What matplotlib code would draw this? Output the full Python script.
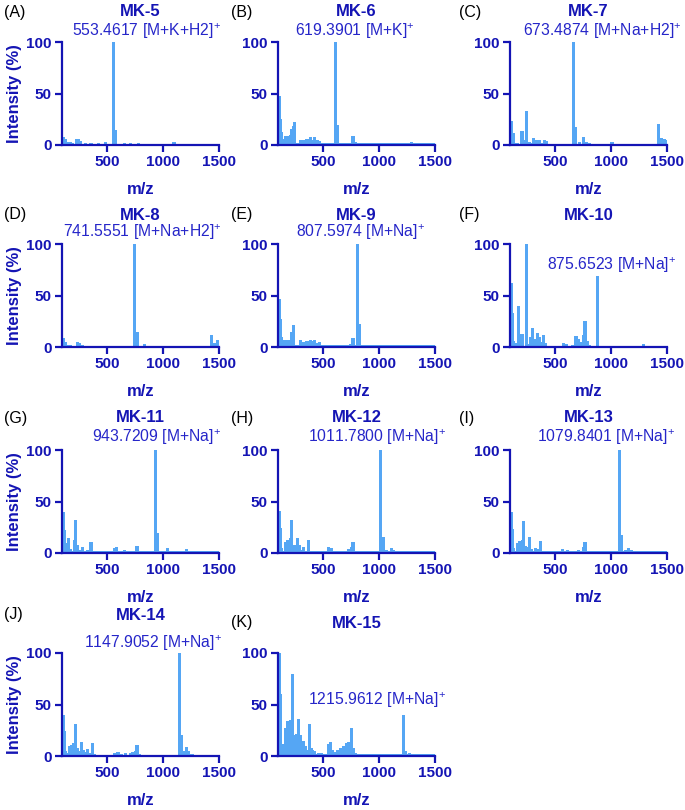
import matplotlib
matplotlib.use("Agg")
import matplotlib.pyplot as plt

plt.rcParams["font.family"] = ["Liberation Sans", "DejaVu Sans"]
plt.rcParams["mathtext.fontset"] = "custom"
plt.rcParams["mathtext.rm"] = "Liberation Sans"

# ---- data (bin start m/z, relative intensity %) ----
mk5_mz = [100, 113, 130, 145, 160, 175, 220, 235, 250, 295, 345, 415, 475, 543, 560, 645, 695, 765, 1085]
mk5_int = [8, 6, 3, 2.5, 3, 2, 6, 6, 4, 1.5, 1.5, 2, 2.5, 100, 15, 1.5, 1.5, 2, 2.5]

mk6_mz = [100, 110, 120, 135, 150, 165, 180, 195, 207, 221, 235, 255, 285, 305, 325, 345, 360, 375,
          395, 415, 435, 455, 485, 515, 595, 615, 695, 755, 775, 1275]
mk6_int = [48, 25, 13, 6, 9, 9, 9, 10, 16, 18, 22, 2, 5, 5, 5, 6, 6, 8, 5, 8, 5, 4, 2, 2, 100, 19, 2, 9, 3, 3]

mk7_mz = [100, 115, 130, 155, 185, 200, 217, 235, 255, 275, 295, 315, 345, 365, 395, 415, 650, 672,
          705, 740, 765, 795, 995, 1412, 1435, 1460, 1480]
mk7_int = [23, 12, 2, 2, 14, 14, 5, 33, 3, 2, 7, 5, 5, 2, 5, 4, 100, 17, 3, 8, 3, 2, 3, 20, 7, 6, 5]

mk8_mz = [100, 115, 135, 165, 225, 245, 265, 735, 757, 825, 1422, 1445, 1475]
mk8_int = [9, 5, 2, 2, 5, 4, 2, 100, 15, 3, 12, 4, 6.5]

mk9_mz = [100, 110, 120, 140, 160, 180, 205, 225, 245, 285, 305, 325, 345, 375, 395, 415, 435, 455,
          485, 515, 735, 755, 792, 812, 835]
mk9_int = [47, 27, 10, 7, 7, 7, 15, 21, 2, 7, 5, 5, 6, 7, 6, 7, 4, 5, 2, 2, 3, 9, 100, 22, 2]

mk10_mz = [100, 110, 120, 135, 160, 175, 195, 230, 250, 270, 285, 300, 315, 335, 350, 365, 385, 405,
           565, 585, 645, 675, 695, 715, 740, 755, 775, 795, 863, 1275]
mk10_int = [62, 33, 6, 4, 40, 13, 13, 100, 3, 10, 18, 8, 5, 14, 10, 5, 12, 4, 4, 3, 2, 11, 8, 5, 12, 25,
            6, 2, 69, 3]

mk11_mz = [100, 110, 120, 135, 145, 160, 195, 210, 225, 245, 265, 285, 315, 345, 365, 555, 575, 615,
           645, 695, 755, 775, 918, 937, 1025, 1195]
mk11_int = [40, 22, 6, 10, 15, 4, 13, 32, 8, 3, 6, 2, 3, 11, 2, 5, 6, 2, 3, 2, 7, 2, 100, 19, 5, 4]

mk12_mz = [100, 110, 120, 135, 155, 175, 195, 210, 225, 245, 260, 275, 295, 315, 335, 355, 375, 535,
           565, 595, 645, 695, 715, 740, 755, 775, 1003, 1022, 1055, 1095, 1115]
mk12_int = [41, 24, 5, 2, 11, 13, 15, 32, 8, 8, 15, 8, 3, 6, 2, 13, 2, 6, 5, 2, 2, 2, 4, 6, 11, 2, 100,
            16, 3, 5, 3]

mk13_mz = [100, 110, 120, 135, 155, 170, 195, 210, 225, 245, 260, 275, 295, 315, 335, 355, 375, 555,
           595, 695, 740, 755, 775, 1060, 1082, 1115, 1145, 1165]
mk13_int = [40, 23, 5, 2, 10, 12, 13, 31, 7, 6, 16, 4, 2, 5, 4, 12, 2, 4, 3, 3, 6, 11, 2, 100, 17, 3, 5, 3]

mk14_mz = [100, 110, 120, 135, 155, 170, 185, 210, 225, 245, 260, 275, 295, 315, 335, 355, 375, 555,
           585, 615, 655, 695, 715, 740, 755, 775, 1132, 1152, 1175, 1195, 1215, 1245]
mk14_int = [40, 24, 5, 3, 10, 11, 13, 31, 8, 5, 14, 6, 4, 7, 3, 13, 2, 3, 4, 2, 3, 3, 4, 5, 11, 2, 100,
            20, 5, 9, 5, 2]

mk15_mz = [100, 112, 122, 135, 155, 175, 195, 213, 235, 255, 270, 285, 300, 315, 330, 345, 365, 380,
           395, 415, 445, 475, 535, 555, 575, 595, 615, 645, 675, 695, 715, 738, 755, 775, 1202, 1225, 1255]
mk15_int = [100, 60, 12, 8, 27, 34, 35, 80, 20, 21, 36, 20, 8, 15, 10, 6, 31, 8, 6, 5, 3, 3, 12, 14, 6,
            4, 6, 8, 10, 13, 14, 27, 8, 3, 40, 5, 3]

baselines = [1.0, 1.5, 1.0, 0.8, 1.5, 1.2, 1.5, 1.5, 1.5, 1.0, 2.2]
panel_tags = ["(A)", "(B)", "(C)", "(D)", "(E)", "(F)", "(G)", "(H)", "(I)", "(J)", "(K)"]
titles = ["MK-5", "MK-6", "MK-7", "MK-8", "MK-9", "MK-10", "MK-11", "MK-12", "MK-13", "MK-14", "MK-15"]
annotations = [
    "553.4617 [M+K+H2]$^{+}$", "619.3901 [M+K]$^{+}$", "673.4874 [M+Na+H2]$^{+}$",
    "741.5551 [M+Na+H2]$^{+}$", "807.5974 [M+Na]$^{+}$", "875.6523 [M+Na]$^{+}$",
    "943.7209 [M+Na]$^{+}$", "1011.7800 [M+Na]$^{+}$", "1079.8401 [M+Na]$^{+}$",
    "1147.9052 [M+Na]$^{+}$", "1215.9612 [M+Na]$^{+}$",
]
spectra = [
    (mk5_mz, mk5_int), (mk6_mz, mk6_int), (mk7_mz, mk7_int), (mk8_mz, mk8_int),
    (mk9_mz, mk9_int), (mk10_mz, mk10_int), (mk11_mz, mk11_int), (mk12_mz, mk12_int),
    (mk13_mz, mk13_int), (mk14_mz, mk14_int), (mk15_mz, mk15_int),
]

# ---- layout (pixels in a 685x810 canvas) ----
W, H = 685, 810
col_left = [62, 278, 510]
row_top = [42, 244, 450, 653]
ax_w, ax_h = 157, 103
# annotation centre (x, y) per panel, title y per panel
annot_pos = [(147, 31), (355, 31), (602, 31), (142, 232), (361, 232), (612, 265),
             (157, 437), (377, 437), (606, 437), (153, 643), (377, 700)]
title_y = [12, 12, 12, 215, 215, 215, 418, 418, 418, 615, 623]

AXIS = "#1414B4"
TEXT = "#2626C9"
BAR = "#55A6F4"


def fx(px):
    return px / W


def fy(py):
    return 1 - py / H


fig = plt.figure(figsize=(W / 100, H / 100), dpi=100)

for i, (mz, inten) in enumerate(spectra):
    r, c = divmod(i, 3)
    left, top = col_left[c], row_top[r]
    ax = fig.add_axes([fx(left), fy(top + ax_h), ax_w / W, ax_h / H])

    ax.bar(100, baselines[i], width=1400, align="edge", color=BAR, linewidth=0)
    ax.bar(mz, inten, width=28, align="edge", color=BAR, linewidth=0)

    ax.set_xlim(100, 1500)
    ax.set_ylim(0, 100)
    ax.set_xticks([500, 1000, 1500])
    ax.set_yticks([0, 50, 100])
    for s in ["top", "right"]:
        ax.spines[s].set_visible(False)
    for s in ["left", "bottom"]:
        ax.spines[s].set_color(AXIS)
        ax.spines[s].set_linewidth(1.6)
    ax.tick_params(colors=AXIS, width=1.6, length=5, pad=2.5, labelsize=11)
    for lab in ax.get_xticklabels() + ax.get_yticklabels():
        lab.set_fontweight("bold")
        lab.set_color(AXIS)
    ax.set_xlabel("m/z", fontsize=12, fontweight="bold", color=AXIS, labelpad=9)
    if c == 0:
        ax.set_ylabel("Intensity (%)", fontsize=12, fontweight="bold", color=AXIS, labelpad=3)

    cx = left + ax_w / 2
    fig.text(fx(cx), fy(title_y[i]), titles[i], ha="center", va="center",
             fontsize=12, fontweight="bold", color=AXIS)
    ax_px, ay_px = annot_pos[i]
    fig.text(fx(ax_px), fy(ay_px), annotations[i], ha="center", va="center",
             fontsize=11.3, color=TEXT)
    tag_x = [4, 231, 459][c]
    fig.text(fx(tag_x), fy(title_y[i]), panel_tags[i], ha="left", va="center",
             fontsize=11.5, color="black")

fig.savefig("out.png", dpi=100)
